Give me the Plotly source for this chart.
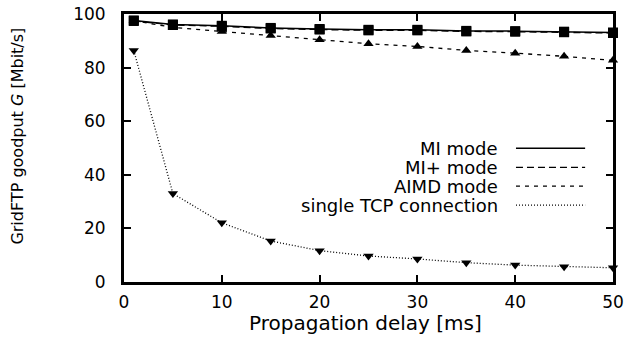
import plotly.graph_objects as go

delay_ms = [1, 5, 10, 15, 20, 25, 30, 35, 40, 45, 50]
mi_mode = [97.6, 96.1, 95.6, 94.8, 94.4, 94.1, 94.1, 93.7, 93.6, 93.4, 93.1]
mi_plus_mode = [97.4, 95.9, 95.4, 94.6, 94.2, 93.9, 93.9, 93.5, 93.4, 93.2, 92.9]
aimd_mode = [97.5, 95.0, 93.5, 92.0, 90.4, 88.9, 87.9, 86.4, 85.4, 84.2, 82.7]
single_tcp = [86.4, 33.0, 22.1, 15.3, 11.7, 9.7, 8.6, 7.2, 6.3, 5.7, 5.3]

legend_labels = ["MI mode", "MI+ mode", "AIMD mode", "single TCP connection"]
x_ticks = [0, 10, 20, 30, 40, 50]
y_ticks = [0, 20, 40, 60, 80, 100]

FONT = "DejaVu Sans"
styles = [
    dict(dash="solid", width=1.5, symbol="square", size=10),
    dict(dash="7px,4px", width=1.3, symbol="square", size=10),
    dict(dash="4px,5px", width=1.3, symbol="triangle-up", size=9),
    dict(dash="1px,2px", width=1.3, symbol="triangle-down", size=9),
]
series = [mi_mode, mi_plus_mode, aimd_mode, single_tcp]

fig = go.Figure()
for idx in [3, 2, 1, 0]:
    st = styles[idx]
    fig.add_trace(go.Scatter(
        x=delay_ms, y=series[idx], mode="lines+markers", name=legend_labels[idx],
        line=dict(color="black", width=st["width"], dash=st["dash"]),
        marker=dict(symbol=st["symbol"], size=st["size"], color="black"),
        showlegend=False, cliponaxis=False,
    ))

# gnuplot-style legend: text right-aligned, sample line to the right
row_y = [0.499, 0.428, 0.358, 0.287]
annotations = []
shapes = []
for lab, st, yy in zip(legend_labels, styles, row_y):
    annotations.append(dict(text=lab, x=0.767, y=yy, xref="paper", yref="paper",
                            xanchor="right", yanchor="middle", showarrow=False, borderpad=0,
                            font=dict(family=FONT, size=18, color="black")))
    shapes.append(dict(type="line", xref="paper", yref="paper", x0=0.8016, x1=0.943,
                       y0=yy, y1=yy, line=dict(color="black", width=1.3, dash=st["dash"])))

annotations.append(dict(text="Propagation delay [ms]", x=0.493, y=-0.152, xref="paper", yref="paper",
                        xanchor="center", yanchor="middle", showarrow=False, borderpad=0,
                        font=dict(family=FONT, size=20, color="black")))
annotations.append(dict(text="GridFTP goodput <i>G</i> [Mbit/s]", x=-0.218, y=0.544, xref="paper", yref="paper",
                        xanchor="center", yanchor="middle", showarrow=False, textangle=-90, borderpad=0,
                        font=dict(family=FONT, size=16, color="black")))

axis_common = dict(showline=True, linecolor="black", linewidth=3, mirror="ticks",
                   ticks="inside", ticklen=7, tickwidth=2, tickcolor="black",
                   showgrid=False, zeroline=False, automargin=False,
                   tickfont=dict(family=FONT, size=17, color="black"))

fig.update_layout(
    width=633, height=345,
    margin=dict(l=124, r=20, t=13.5, b=63),
    plot_bgcolor="white", paper_bgcolor="white",
    xaxis=dict(range=[0, 50], tickvals=x_ticks, ticklabelstandoff=3, **axis_common),
    yaxis=dict(range=[0, 100], tickvals=y_ticks, ticklabelstandoff=12, **axis_common),
    annotations=annotations, shapes=shapes,
)

fig.write_html("out.html")
